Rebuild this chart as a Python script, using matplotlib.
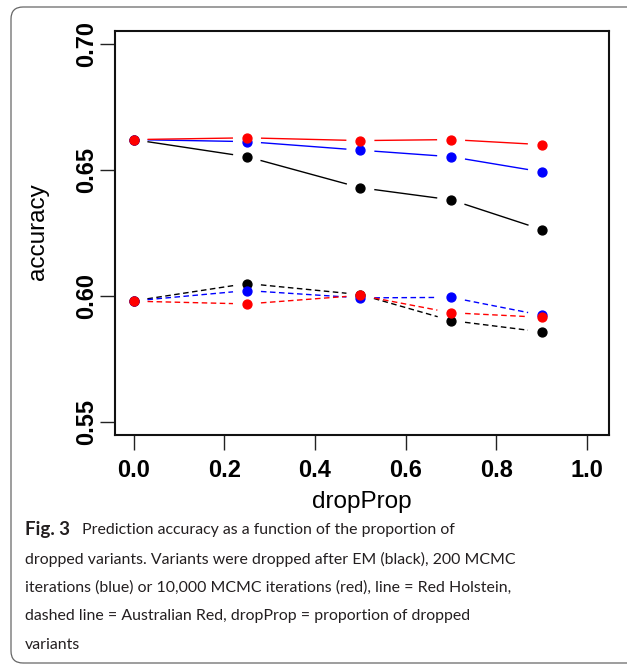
import numpy as np
import matplotlib.pyplot as plt
from matplotlib.patches import FancyBboxPatch
from matplotlib.transforms import IdentityTransform

# proportion of dropped variants
drop_prop = [0.0, 0.25, 0.5, 0.7, 0.9]

# Red Holstein (solid lines)
rh_em = [0.662, 0.6552, 0.6429, 0.6381, 0.6263]
rh_mcmc200 = [0.662, 0.6612, 0.6578, 0.6552, 0.6492]
rh_mcmc10k = [0.662, 0.6627, 0.6616, 0.662, 0.660]

# Australian Red (dashed lines)
ar_em = [0.598, 0.6049, 0.6005, 0.5902, 0.5857]
ar_mcmc200 = [0.598, 0.6021, 0.5992, 0.5994, 0.5923]
ar_mcmc10k = [0.5979, 0.5968, 0.6002, 0.5933, 0.5915]

y_ticks = [0.55, 0.60, 0.65, 0.70]
x_ticks = [0.0, 0.2, 0.4, 0.6, 0.8, 1.0]

caption_lines = [
    "dropped variants. Variants were dropped after EM (black), 200 MCMC",
    "iterations (blue) or 10,000 MCMC iterations (red), line = Red Holstein,",
    "dashed line = Australian Red, dropProp = proportion of dropped",
    "variants",
]

W, H = 627, 664
XLIM = (-0.042, 1.048)
YLIM = (0.5448, 0.7052)
AX_L, AX_R, AX_T, AX_B = 114.5, 609, 30.7, 435  # axes box in pixels

fig = plt.figure(figsize=(W / 100, H / 100), dpi=100)
fig.patch.set_facecolor("white")
ax = fig.add_axes([AX_L / W, 1 - AX_B / H, (AX_R - AX_L) / W, (AX_B - AX_T) / H])
ax.set_xlim(*XLIM)
ax.set_ylim(*YLIM)

# pixels per data unit
sx = (AX_R - AX_L) / (XLIM[1] - XLIM[0])
sy = (AX_B - AX_T) / (YLIM[1] - YLIM[0])


# R type="b": points joined by lines that stop short of each point
def draw_b(xs, ys, color, ls, gap=14.0):
    for i in range(len(xs) - 1):
        dx = (xs[i + 1] - xs[i]) * sx
        dy = (ys[i + 1] - ys[i]) * sy
        n = np.hypot(dx, dy)
        if n <= 2 * gap:
            continue
        fx = gap / n * (xs[i + 1] - xs[i])
        fy = gap / n * (ys[i + 1] - ys[i])
        ax.plot([xs[i] + fx, xs[i + 1] - fx], [ys[i] + fy, ys[i + 1] - fy],
                color=color, lw=1.0, ls=ls,
                dash_capstyle="butt", solid_capstyle="butt")
    ax.plot(xs, ys, "o", color=color, ms=6.4, mec=color, ls="none", zorder=3)


dash = (0, (4, 2.5))
for ys, c in [(rh_em, "black"), (rh_mcmc200, "#0000ff"), (rh_mcmc10k, "#ff0000")]:
    draw_b(drop_prop, ys, c, "-")
for ys, c in [(ar_em, "black"), (ar_mcmc200, "#0000ff"), (ar_mcmc10k, "#ff0000")]:
    draw_b(drop_prop, ys, c, dash)

ax.set_xticks(x_ticks)
ax.set_xticklabels([f"{v:.1f}" for v in x_ticks])
ax.set_yticks(y_ticks)
ax.set_yticklabels([f"{v:.2f}" for v in y_ticks], rotation=90, va="center")
for lab in ax.get_xticklabels() + ax.get_yticklabels():
    lab.set_fontfamily("Liberation Sans")
    lab.set_fontweight("bold")
    lab.set_fontsize(17)
ax.tick_params(direction="out", length=10.5, width=1.0, color="#222222")
ax.tick_params(axis="x", pad=7)
ax.tick_params(axis="y", pad=1)
for s in ax.spines.values():
    s.set_linewidth(1.5)
    s.set_color("#111111")

fig.text(38 / W, 1 - 232 / H, "accuracy", rotation=90, ha="center", va="center",
         fontsize=17.5, family="Liberation Sans")
fig.text(362 / W, 1 - 502 / H, "dropProp", ha="center", va="center",
         fontsize=17.5, family="Liberation Sans")

# caption
cap_font = "Lato"
cap_size = 11.4
cap_color = "#231f20"
cap_x = 25
t0 = fig.text(cap_x / W, 1 - 530 / H, "Fig. 3", ha="left", va="center",
              fontsize=13.5, family=cap_font, weight="bold", color=cap_color)
fig.canvas.draw()
bb = t0.get_window_extent()
fig.text((bb.x1 + 12) / W, 1 - 530 / H, "Prediction accuracy as a function of the proportion of",
         ha="left", va="center", fontsize=cap_size, family=cap_font, color=cap_color)
for i, line in enumerate(caption_lines):
    fig.text(cap_x / W, 1 - (559 + i * 28.7) / H, line, ha="left", va="center",
             fontsize=cap_size, family=cap_font, color=cap_color)

# rounded frame around the figure panel (runs off the right edge)
frame = FancyBboxPatch((11, 1), 640, 656, boxstyle="round,pad=0,rounding_size=12",
                       transform=IdentityTransform(), fill=False,
                       edgecolor="#666666", lw=0.9)
fig.add_artist(frame)

fig.savefig("out.png", dpi=100)
